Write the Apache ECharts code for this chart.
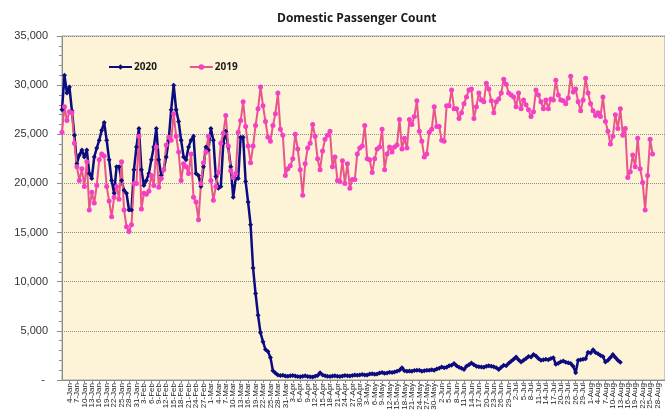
<!DOCTYPE html>
<html>
<head>
<meta charset="utf-8">
<script src="https://cdn.jsdelivr.net/npm/echarts@6/dist/echarts.min.js"></script>
<style>
  html, body { margin: 0; padding: 0; background: #fff; }
  #chart { width: 665px; height: 414px; }
</style>
</head>
<body>
<div id="chart"></div>
<script>
// months shown on the axis (2020, leap year)
var months = ['Jan', 'Feb', 'Mar', 'Apr', 'May', 'Jun', 'Jul', 'Aug'];
var monthDays = [31, 29, 31, 30, 31, 30, 31, 31];

var yTicks = [0, 5000, 10000, 15000, 20000, 25000, 30000, 35000];

// 2020 daily count
var pax2020 = [
    27500, 31000, 29200, 29800, 27400, 24900, 22000, 22900, 23400, 22700,
    23400, 21000, 20500, 22700, 23600, 24400, 25400, 26200, 24400, 22400,
    20300, 19000, 21700, 21700, 20300, 19300, 19000, 17300, 17300, 21400,
    23700, 25600, 21400, 19800, 20300, 21000, 22400, 23700, 25600, 22400,
    20800, 21400, 22700, 24400, 27500, 30000, 27500, 26300, 24400, 22700,
    22400, 23700, 24400, 24800, 21000, 20800, 19700, 21700, 23700, 23400,
    25600, 24400, 20700, 19500, 19700, 24100, 25300, 23700, 21700, 18600,
    20500, 20500, 24700, 24700, 20200, 18100, 15800, 11400, 8800, 6600,
    4800, 3900, 3100, 2900, 2300, 950,
    700, 520, 450, 480, 400, 380, 430, 470, 400, 350, 330, 380, 420, 360, 340,
    300, 380, 450, 740, 520, 420, 380, 350, 400, 420, 380, 360, 410, 450, 420,
    400, 450, 500, 480, 520, 560, 500, 520, 600, 640, 580, 620, 700, 760, 680,
    720, 800, 760, 820, 900, 1000, 1250, 950, 880, 920, 900, 960, 1000, 980, 900,
    950, 1000, 980, 1050, 1000, 1120, 1200, 1330, 1250, 1300, 1450, 1500, 1670, 1450, 1300,
    1200, 1070, 1400, 1550, 1730, 1550, 1400, 1350, 1330, 1300, 1400, 1450, 1400, 1350, 1250,
    1070, 1300, 1500, 1450, 1700, 1900, 2100, 2330, 2050, 1830, 2000, 2200, 2400, 2350, 2600,
    2450, 2200, 2000, 2050, 2100, 2070, 2200, 2270, 1600, 1700, 1850, 1930, 1800, 1750, 1670,
    1400, 730, 2000, 2050, 2100, 2170, 2830, 2750, 3070, 2800, 2670, 2500, 2400, 1830, 2000,
    2300, 2600, 2300, 2000, 1800
];

// 2019 daily count on the same calendar days
var pax2019 = [
    25200, 27800, 26400, 27300, 27200, 24100, 21700, 20300, 21500, 19700,
    22200, 17300, 19100, 18000, 19800, 22400, 23000, 22800, 19700, 18200,
    16600, 18600, 19700, 18400, 22200, 17300, 15600, 15100, 15800, 20000,
    20000, 24800, 17400, 19000, 18900, 19200, 20800, 19800, 23700, 19600,
    20500, 21400, 23900, 24700, 24400, 27100, 24800, 23200, 20300, 22000,
    21700, 21000, 23000, 18600, 18100, 16300, 20000, 22100, 23200, 24800,
    20300, 18300, 19700, 21100, 24100, 25100, 26900, 23800, 21300, 20600,
    21000, 25200, 26400, 28300, 25800, 23800, 22100, 23800, 25900, 27600,
    29800, 27900, 26300, 24700, 24300, 25900, 27100, 29200, 25500, 24900,
    20800, 21500, 21800, 22500, 25000, 23500, 21400, 18800, 22000, 23600,
    24100, 26000, 24800, 22500, 21400, 23300, 24500, 24900, 25300, 21700,
    22700, 20300, 20200, 22300, 20000, 22000, 19500, 20400, 20400, 23000,
    23600, 23800, 25900, 22500, 22400, 21100, 22500, 23500, 23700, 25500,
    21400, 23000, 23700, 23200, 23700, 23900, 26500, 23500, 24600, 23600,
    26500, 26000, 26800, 28400, 25300, 24300, 22700, 23000, 25200, 25500,
    27800, 25800, 25800, 24400,
    24300, 27900, 27900, 29500, 27600, 27600, 26600, 27200, 28100, 28800,
    29500, 29600, 26600, 27800, 29200, 28500, 28300, 30200, 29600, 28400,
    27200, 28300, 28600, 29200, 30600, 30100, 29200, 29000, 28800, 27800,
    29200, 27600, 28500, 28000, 27500, 26800, 27300, 29500, 29000, 28300,
    27600, 28500, 27600, 28600, 28500, 30500, 29000, 28500, 28400, 28100,
    28700, 30900, 29300, 29600, 28300, 27400, 28500, 30700, 29200, 28100,
    27400, 26900, 27200, 26800, 28800, 26300, 25300, 24000, 24800, 27000,
    25600, 27600, 24900, 25600, 20600, 21200, 22900, 21700, 24600, 21500,
    20100, 17300, 20800, 24500, 23000
];

var categories = [];
for (var m = 0; m < months.length; m++) {
    for (var d = 1; d <= monthDays[m]; d++) {
        categories.push(d + '-' + months[m]);
    }
}

var myChart = echarts.init(document.getElementById('chart'));

var option = {
    animation: false,
    backgroundColor: '#ffffff',
    title: {
        text: 'Domestic Passenger Count',
        left: 272,
        top: 8,
        textStyle: {
            fontFamily: 'Open Sans',
            fontSize: 12,
            fontWeight: 'bold',
            color: '#1a1a1a'
        }
    },
    legend: {
        left: 103,
        top: 57,
        itemWidth: 23,
        itemHeight: 7,
        itemGap: 32,
        data: ['2020', '2019'],
        textStyle: {
            fontFamily: 'Open Sans',
            fontSize: 10,
            fontWeight: 'bold',
            color: '#1a1a1a',
            padding: [0, 0, 0, -3]
        }
    },
    grid: {
        left: 62,
        top: 36,
        bottom: 34,
        right: -12,
        show: true,
        backgroundColor: '#fdf3d6',
        borderColor: '#a0a0a0',
        borderWidth: 1
    },
    xAxis: {
        type: 'category',
        boundaryGap: false,
        data: categories,
        axisLine: { lineStyle: { color: '#8c8c8c', width: 1 } },
        axisTick: { show: true, interval: 2, length: 3, lineStyle: { color: '#8c8c8c' } },
        axisLabel: {
            interval: 2,
            rotate: 90,
            margin: 3,
            fontFamily: 'Liberation Sans',
            fontSize: 8,
            color: '#222'
        },
        splitLine: { show: false }
    },
    yAxis: {
        type: 'value',
        min: yTicks[0],
        max: yTicks[yTicks.length - 1],
        interval: 5000,
        axisLine: { show: true, lineStyle: { color: '#8c8c8c' } },
        axisTick: { show: true, length: 5, lineStyle: { color: '#8c8c8c' } },
        minorTick: { show: true, splitNumber: 5, length: 3, lineStyle: { color: '#8c8c8c' } },
        axisLabel: {
            margin: 14,
            fontFamily: 'Liberation Sans',
            fontSize: 11,
            color: '#333',
            formatter: function (v) {
                return v === 0 ? '- ' : v.toLocaleString('en-US');
            }
        },
        splitLine: { lineStyle: { color: '#8f8f8f', type: 'dotted', width: 1 } }
    },
    series: [
        {
            name: '2020',
            type: 'line',
            data: pax2020,
            symbol: 'diamond',
            symbolSize: 5,
            showAllSymbol: true,
            lineStyle: { color: '#0c0c80', width: 2.5 },
            itemStyle: { color: '#0c0c80' }
        },
        {
            name: '2019',
            type: 'line',
            data: pax2019,
            symbol: 'circle',
            symbolSize: 5,
            showAllSymbol: true,
            lineStyle: { color: '#e8568c', width: 2 },
            itemStyle: { color: '#f43fc6' }
        }
    ]
};

myChart.setOption(option);
</script>
</body>
</html>
